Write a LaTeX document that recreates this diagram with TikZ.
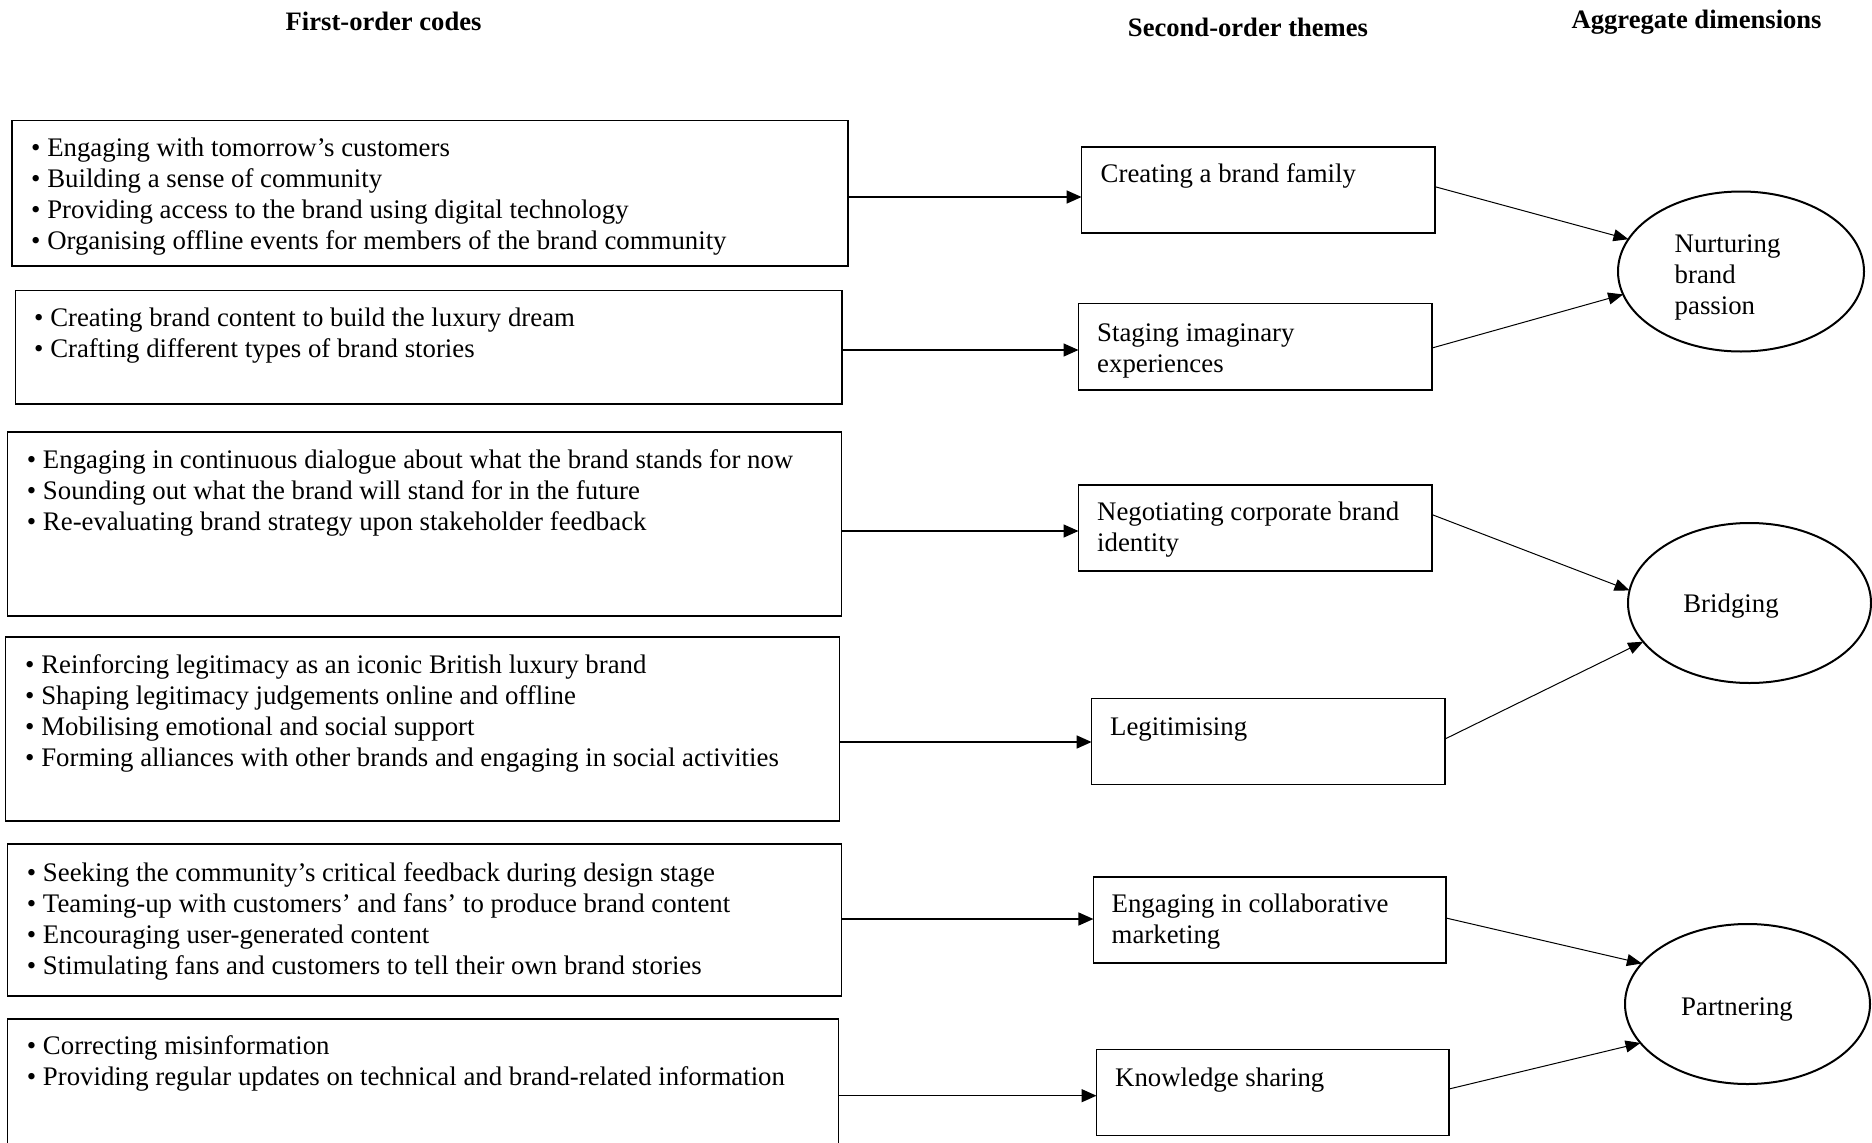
\documentclass[tikz,border=0pt]{standalone}
\usepackage{fontspec}
\setmainfont{Liberation Serif}
\usetikzlibrary{arrows.meta,shapes.geometric,calc}
\begin{document}
\begin{tikzpicture}[x=1pt,y=-1pt,
  box/.style={draw=black,line width=1.3pt,anchor=north west,inner sep=0pt,outer sep=0pt},
  txt/.style={anchor=north west,inner sep=0pt,align=left,font=\fontsize{26.8}{31}\selectfont},
  hdr/.style={anchor=base,inner sep=0pt,font=\fontsize{26.6}{31}\selectfont\bfseries},
  ctxt/.style={anchor=base,inner sep=0pt,font=\fontsize{26.8}{31}\selectfont},
  oval/.style={draw=black,line width=2pt,ellipse,inner sep=0pt,outer sep=0pt},
  harr/.style={line width=1.5pt,-{Triangle[length=15pt,width=13pt]}},
  darr/.style={line width=1pt,-{Triangle[length=15pt,width=12pt]}}]
\useasboundingbox (0,0) rectangle (1872,1143);
\fill[white] (0,0) rectangle (1872,1143);
\clip (0,0) rectangle (1872,1143);

% headers
\node[hdr] (h1) at (383.6,30.5) {First-order codes};
\node[hdr] (h2) at (1248,36) {Second-order themes};
\node[hdr] (h3) at (1696.6,28) {Aggregate dimensions};

% first-order boxes
\node[box,minimum width=836pt,minimum height=145.4pt] (b1) at (12,120.6) {};
\node[box,minimum width=826.5pt,minimum height=113.5pt] (b2) at (15.5,290.5) {};
\node[box,minimum width=834pt,minimum height=184pt] (b3) at (7.5,432) {};
\node[box,minimum width=834pt,minimum height=184pt] (b4) at (5.7,637) {};
\node[box,minimum width=834pt,minimum height=152pt] (b5) at (7.5,844) {};
\node[box,minimum width=831.2pt,minimum height=140pt] (b6) at (7.5,1019) {};

\node[txt] (t1) at (31,134.5) {\strut• Engaging with tomorrow’s customers\\• Building a sense of community\\• Providing access to the brand using digital technology\\• Organising offline events for members of the brand community};
\node[txt] (t2) at (34,304.3) {\strut• Creating brand content to build the luxury dream\\• Crafting different types of brand stories};
\node[txt] (t3) at (26.7,446.8) {\strut• Engaging in continuous dialogue about what the brand stands for now\\• Sounding out what the brand will stand for in the future\\• Re-evaluating brand strategy upon stakeholder feedback};
\node[txt] (t4) at (25,651.3) {\strut• Reinforcing legitimacy as an iconic British luxury brand\\• Shaping legitimacy judgements online and offline\\• Mobilising emotional and social support\\• Forming alliances with other brands and engaging in social activities};
\node[txt] (t5) at (26.7,859.3) {\strut• Seeking the community’s critical feedback during design stage\\• Teaming-up with customers’ and fans’ to produce brand content\\• Encouraging user-generated content\\• Stimulating fans and customers to tell their own brand stories};
\node[txt] (t6) at (26.7,1032.8) {\strut• Correcting misinformation\\• Providing regular updates on technical and brand-related information};

% second-order boxes
\node[box,minimum width=353.4pt,minimum height=86pt] (A) at (1081.6,147) {};
\node[box,minimum width=353.5pt,minimum height=86.3pt] (B) at (1078.5,303.7) {};
\node[box,minimum width=353.5pt,minimum height=86pt] (C) at (1078.5,485) {};
\node[box,minimum width=353.4pt,minimum height=86pt] (D) at (1091.6,698.7) {};
\node[box,minimum width=352.6pt,minimum height=86pt] (E) at (1093.4,877) {};
\node[box,minimum width=352.5pt,minimum height=86pt] (F) at (1096.5,1049.7) {};

\node[txt] (tA) at (1100.5,160.8) {\strut Creating a brand family};
\node[txt] (tB) at (1097,319.3) {\strut Staging imaginary\\experiences};
\node[txt] (tC) at (1097,498.8) {\strut Negotiating corporate brand\\identity};
\node[txt] (tD) at (1110,713.8) {\strut Legitimising};
\node[txt] (tE) at (1111.5,890.3) {\strut Engaging in collaborative\\marketing};
\node[txt] (tF) at (1115,1064.8) {\strut Knowledge sharing};

% aggregate dimensions
\node[oval,minimum width=246pt,minimum height=160pt] (N) at (1741,271.5) {};
\node[oval,minimum width=243pt,minimum height=160pt] (Br) at (1749.5,603) {};
\node[oval,minimum width=245pt,minimum height=160pt] (P) at (1747.5,1004) {};

\node[txt] (tN) at (1674.5,230.8) {\strut Nurturing\\brand\\passion};
\node[ctxt] (tBr) at (1731,612) {Bridging};
\node[ctxt] (tP) at (1737,1015) {Partnering};

% connectors first -> second order
\draw[harr] (b1.east |- 0,197) -- (A.west |- 0,197);
\draw[harr] (b2.east |- 0,350) -- (B.west |- 0,350);
\draw[harr] (b3.east |- 0,531) -- (C.west |- 0,531);
\draw[harr] (b4.east |- 0,742) -- (D.west |- 0,742);
\draw[harr] (b5.east |- 0,919) -- (E.west |- 0,919);
\draw[harr] (b6.east |- 0,1095.7) -- (F.west |- 0,1095.7);

% connectors second order -> aggregate
\draw[darr] (A.east |- 0,186.7) -- (N.164);
\draw[darr] (B.east |- 0,348) -- (N.191);
\draw[darr] (C.east |- 0,514.6) -- (Br.174);
\draw[darr] (D.east |- 0,739) -- (Br.200);
\draw[darr] (E.east |- 0,918) -- (P.159);
\draw[darr] (F.east |- 0,1089) -- (P.200);
\end{tikzpicture}
\end{document}
